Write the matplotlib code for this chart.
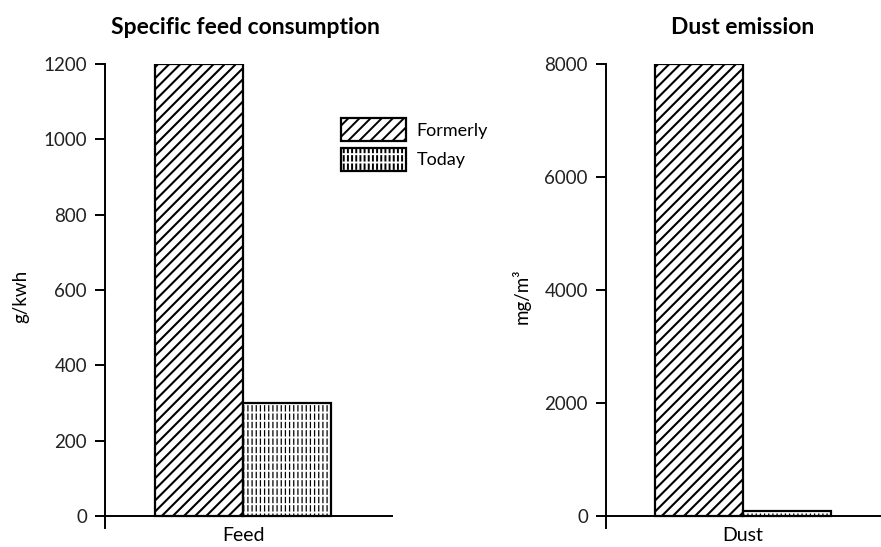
import matplotlib
matplotlib.use("Agg")
import matplotlib.pyplot as plt
from matplotlib.legend_handler import HandlerTuple
from matplotlib.patches import Rectangle

plt.rcParams['font.family'] = ['Lato', 'DejaVu Sans']

series = ["Formerly", "Today"]
feed_values = [1200, 300]
dust_values = [8000, 80]
feed_ticks = [0, 200, 400, 600, 800, 1000, 1200]
dust_ticks = [0, 2000, 4000, 6000, 8000]

fig = plt.figure(figsize=(8.81, 5.47), dpi=100)
W, H = 881, 547

DIAG_LW = 1.5
VERT_LW = 0.9
GAP_LW = 1.4


def axes_px(x0, x1, ytop, ybot):
    return [x0 / W, 1 - ybot / H, (x1 - x0) / W, (ybot - ytop) / H]


def make_patches(kind):
    """Return legend handle(s) for a series."""
    if kind == 0:
        plt.rcParams['hatch.linewidth'] = DIAG_LW
        return Rectangle((0, 0), 1, 1, facecolor='white', edgecolor='black',
                         hatch='///', linewidth=1.6)
    plt.rcParams['hatch.linewidth'] = VERT_LW
    a = Rectangle((0, 0), 1, 1, facecolor='white', edgecolor='black', hatch='||||', linewidth=0)
    plt.rcParams['hatch.linewidth'] = GAP_LW
    b = Rectangle((0, 0), 1, 1, facecolor='none', edgecolor='white', hatch='--', linewidth=0)
    c = Rectangle((0, 0), 1, 1, fill=False, edgecolor='black', linewidth=1.6)
    return (a, b, c)


def draw_panel(ax, values, ticks, cat, ylabel, ymin, xl):
    xs = [-0.5, 0.5]
    plt.rcParams['hatch.linewidth'] = DIAG_LW
    ax.bar(xs[0], values[0], width=1.0, facecolor='white', edgecolor='black',
           hatch='///', linewidth=1.6, zorder=2)
    plt.rcParams['hatch.linewidth'] = VERT_LW
    ax.bar(xs[1], values[1], width=1.0, facecolor='white', edgecolor='black',
           hatch='||||', linewidth=0, zorder=2)
    plt.rcParams['hatch.linewidth'] = GAP_LW
    ax.bar(xs[1], values[1], width=1.0, facecolor='none', edgecolor='white',
           hatch='--', linewidth=0, zorder=3)
    ax.bar(xs[1], values[1], width=1.0, fill=False, edgecolor='black',
           linewidth=1.6, zorder=4)
    ax.set_xlim(*xl)
    ax.set_ylim(ymin, ticks[-1])
    ax.spines['top'].set_visible(False)
    ax.spines['right'].set_visible(False)
    ax.spines['bottom'].set_position(('data', 0))
    ax.spines['left'].set_linewidth(1.4)
    ax.spines['bottom'].set_linewidth(1.4)
    ax.set_yticks(ticks)
    ax.set_yticklabels([str(t) for t in ticks], fontsize=13.5, color='#222222')
    ax.tick_params(axis='y', direction='out', length=7, width=1.4, pad=6)
    ax.set_xticks([0])
    ax.set_xticklabels([cat], fontsize=14)
    ax.tick_params(axis='x', length=0, pad=8)
    ax.set_ylabel(ylabel, fontsize=13.5, labelpad=10)


ax1 = fig.add_axes(axes_px(105, 392, 64, 528))
draw_panel(ax1, feed_values, feed_ticks, "Feed", "g/kwh", -32,
           ((105 - 243) / 88, (392 - 243) / 88))

ax2 = fig.add_axes(axes_px(606, 880, 64, 528))
draw_panel(ax2, dust_values, dust_ticks, "Dust", "mg/m³", -213,
           ((606 - 743) / 88, (880 - 743) / 88))

fig.text(245 / W, 1 - 27 / H, "Specific feed consumption", ha='center', va='center',
         fontsize=16.5, fontweight='bold')
fig.text(743 / W, 1 - 27 / H, "Dust emission", ha='center', va='center',
         fontsize=16.5, fontweight='bold')

# legend
handles = [make_patches(0), make_patches(1)]
leg = ax1.legend(handles, series, loc='upper left',
                 bbox_to_anchor=(341 / W, 1 - 118 / H), bbox_transform=fig.transFigure,
                 frameon=False, fontsize=13, handlelength=3.6, handleheight=1.6,
                 labelspacing=0.35, handletextpad=0.6, borderpad=0, borderaxespad=0,
                 handler_map={tuple: HandlerTuple(ndivide=1, pad=0)})

fig.savefig("out.png", dpi=100)
